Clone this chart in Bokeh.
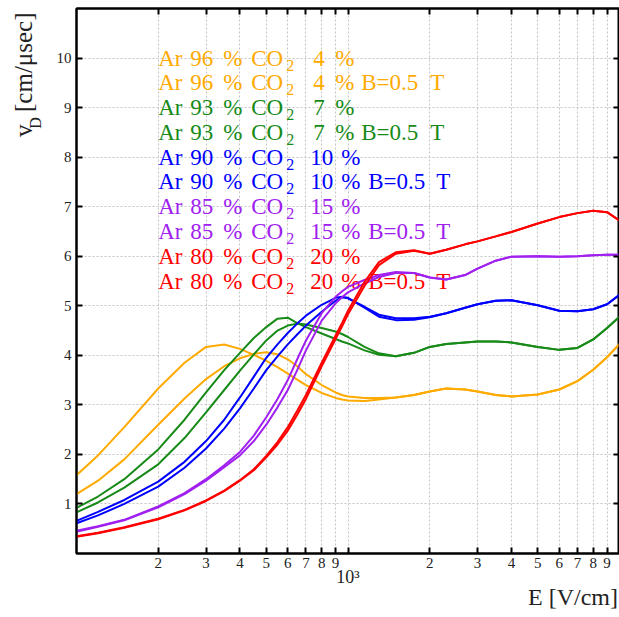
import numpy as np
from bokeh.plotting import figure
from bokeh.models import (FixedTicker, LogAxis, LinearAxis, Range1d, ColumnDataSource)
from bokeh.embed import file_html
from bokeh.resources import INLINE
from bokeh.core.properties import value

# ---------------- data ----------------
E_field = [100, 120, 150, 200, 250, 300, 350, 400, 450, 500, 550, 600, 650, 700,
           800, 900, 950, 1000, 1150, 1300, 1500, 1750, 2000, 2300, 2700, 3000,
           3500, 4000, 5000, 6000, 7000, 8000, 9000, 10000]

ar96_b0 = [1.58, 1.98, 2.55, 3.33, 3.85, 4.17, 4.22, 4.13, 4.01, 3.89, 3.76, 3.63, 3.51, 3.40,
           3.24, 3.14, 3.11, 3.09, 3.08, 3.11, 3.15, 3.20, 3.27, 3.33, 3.31, 3.27,
           3.20, 3.17, 3.21, 3.31, 3.48, 3.71, 3.96, 4.23]
ar96_b5 = [1.20, 1.47, 1.90, 2.60, 3.13, 3.52, 3.78, 3.94, 4.03, 4.06, 4.02, 3.92, 3.78, 3.62,
           3.40, 3.25, 3.20, 3.17, 3.14, 3.14, 3.15, 3.20, 3.27, 3.33, 3.31, 3.27,
           3.20, 3.17, 3.21, 3.31, 3.48, 3.71, 3.96, 4.23]
ar93_b0 = [0.92, 1.15, 1.50, 2.10, 2.70, 3.25, 3.70, 4.05, 4.35, 4.57, 4.74, 4.76, 4.65, 4.57,
           4.44, 4.33, 4.28, 4.24, 4.10, 4.01, 3.98, 4.05, 4.17, 4.23, 4.26, 4.28,
           4.28, 4.26, 4.17, 4.11, 4.15, 4.32, 4.55, 4.78]
ar93_b5 = [0.83, 1.03, 1.33, 1.80, 2.33, 2.85, 3.30, 3.69, 4.02, 4.30, 4.50, 4.60, 4.64, 4.62,
           4.55, 4.48, 4.43, 4.37, 4.17, 4.04, 3.98, 4.05, 4.17, 4.23, 4.26, 4.28,
           4.28, 4.26, 4.17, 4.11, 4.15, 4.32, 4.55, 4.78]
ar90_b0 = [0.66, 0.84, 1.08, 1.45, 1.85, 2.27, 2.70, 3.15, 3.57, 3.95, 4.22, 4.45, 4.64, 4.80,
           5.02, 5.16, 5.18, 5.15, 4.98, 4.82, 4.75, 4.75, 4.78, 4.85, 4.96, 5.03,
           5.10, 5.11, 5.01, 4.90, 4.89, 4.93, 5.03, 5.22]
ar90_b5 = [0.61, 0.77, 1.00, 1.35, 1.73, 2.12, 2.52, 2.93, 3.33, 3.70, 3.98, 4.22, 4.42, 4.60,
           4.88, 5.10, 5.17, 5.16, 4.96, 4.78, 4.71, 4.72, 4.77, 4.85, 4.96, 5.03,
           5.10, 5.11, 5.01, 4.90, 4.89, 4.93, 5.03, 5.22]
ar85_b0 = [0.46, 0.55, 0.68, 0.95, 1.22, 1.50, 1.78, 2.05, 2.38, 2.75, 3.12, 3.50, 3.92, 4.30,
           4.85, 5.18, 5.29, 5.38, 5.52, 5.62, 5.68, 5.66, 5.57, 5.53, 5.62, 5.75,
           5.91, 5.99, 6.00, 5.99, 6.00, 6.02, 6.03, 6.03]
ar85_b5 = [0.44, 0.54, 0.67, 0.93, 1.20, 1.47, 1.74, 1.98, 2.27, 2.60, 2.95, 3.30, 3.70, 4.10,
           4.70, 5.05, 5.17, 5.27, 5.45, 5.58, 5.66, 5.66, 5.57, 5.53, 5.62, 5.75,
           5.91, 5.99, 6.00, 5.99, 6.00, 6.02, 6.03, 6.03]
ar80_b0 = [0.35, 0.42, 0.53, 0.70, 0.88, 1.07, 1.27, 1.48, 1.70, 1.97, 2.25, 2.55, 2.88, 3.20,
           3.85, 4.40, 4.65, 4.90, 5.48, 5.88, 6.08, 6.12, 6.05, 6.13, 6.24, 6.30,
           6.40, 6.49, 6.66, 6.79, 6.87, 6.92, 6.89, 6.72]
ar80_b5 = [0.34, 0.41, 0.52, 0.69, 0.87, 1.06, 1.26, 1.47, 1.68, 1.94, 2.20, 2.48, 2.80, 3.12,
           3.78, 4.33, 4.58, 4.83, 5.40, 5.82, 6.05, 6.11, 6.05, 6.13, 6.24, 6.30,
           6.40, 6.49, 6.66, 6.79, 6.87, 6.92, 6.89, 6.72]

series = [ar96_b0, ar96_b5, ar93_b0, ar93_b5, ar90_b0, ar90_b5,
          ar85_b0, ar85_b5, ar80_b0, ar80_b5]

# legend texts
ar_pct = ["96", "96", "93", "93", "90", "90", "85", "85", "80", "80"]
co2_pct = ["4", "4", "7", "7", "10", "10", "15", "15", "20", "20"]
b_field = ["", "B=0.5", "", "B=0.5", "", "B=0.5", "", "B=0.5", "", "B=0.5"]

x_tick_values = [200, 300, 400, 500, 600, 700, 800, 900, 1000,
                 2000, 3000, 4000, 5000, 6000, 7000, 8000, 9000]
x_tick_labels = ["2", "3", "4", "5", "6", "7", "8", "9", "",
                 "2", "3", "4", "5", "6", "7", "8", "9"]
y_tick_values = [1, 2, 3, 4, 5, 6, 7, 8, 9, 10]
x_title = "E [V/cm]"
y_title_main = "v"
y_title_sub = "D"
y_title_unit = "[cm/\u03bcsec]"
decade_label = "10\u00b3"

# ---------------- styles ----------------
ORANGE = "#FFAA00"
GREEN = "#178A17"
BLUE = "#0000FF"
PURPLE = "#A020F0"
RED = "#FF0000"
colors = [ORANGE, ORANGE, GREEN, GREEN, BLUE, BLUE, PURPLE, PURPLE, RED, RED]
FONT = "Liberation Serif"
TXT = "#222222"
NB = "\u00a0"   # non-breaking spaces used to slide the centred axis titles

p = figure(width=619, height=617, x_axis_type="log",
           x_range=Range1d(100, 10000), y_range=Range1d(0, 11),
           output_backend="svg", toolbar_location=None,
           min_border_left=76, min_border_right=0, min_border_top=8,
           min_border_bottom=64)
p.background_fill_color = "white"
p.border_fill_color = "white"
p.outline_line_color = "black"
p.outline_line_width = 2

bottom_ax = p.below[0]
left_ax = p.left[0]

xt = FixedTicker(ticks=x_tick_values)
yt = FixedTicker(ticks=y_tick_values)

top_ax = LogAxis(ticker=xt)
right_ax = LinearAxis(ticker=yt)
p.add_layout(top_ax, "above")
p.add_layout(right_ax, "right")

for ax in [bottom_ax, left_ax, top_ax, right_ax]:
    ax.axis_line_width = 2
    ax.axis_line_color = "black"
    ax.major_tick_line_width = 2
    ax.major_tick_line_color = "black"
    ax.major_tick_in = 6
    ax.major_tick_out = 0
    ax.minor_tick_line_color = None
    ax.major_label_text_font = FONT
    ax.major_label_text_font_size = "15px"
    ax.major_label_text_color = TXT

bottom_ax.ticker = xt
left_ax.ticker = yt
bottom_ax.major_label_overrides = {v: s for v, s in zip(x_tick_values, x_tick_labels)}
bottom_ax.major_label_standoff = 4
left_ax.major_label_standoff = 5
for ax in [top_ax, right_ax]:
    ax.major_label_text_font_size = "1px"
    ax.major_label_text_color = None
    ax.major_label_standoff = 0

# subscript D of the y title, carried by the real left axis (centred label)
left_ax.axis_label = NB * 79 + y_title_sub
left_ax.axis_label_text_font = FONT
left_ax.axis_label_text_font_size = "16px"
left_ax.axis_label_text_font_style = "normal"
left_ax.axis_label_text_color = TXT
left_ax.axis_label_standoff = 10

# main y title on a bare extra axis
ytitle_ax = LinearAxis(ticker=FixedTicker(ticks=[]), axis_line_color=None,
                       major_tick_line_color=None, minor_tick_line_color=None,
                       major_tick_in=0, major_tick_out=0, minor_tick_in=0, minor_tick_out=0,
                       major_label_text_font_size="1px", major_label_text_color=None,
                       major_label_standoff=0,
                       axis_label=NB * 66 + y_title_main + NB * 2 + y_title_unit,
                       axis_label_text_font=FONT, axis_label_text_font_size="25px",
                       axis_label_text_font_style="normal", axis_label_text_color=TXT,
                       axis_label_standoff=-13)
p.add_layout(ytitle_ax, "left")

# 10^3 decade label and the x title on a bare extra bottom axis
xtitle_ax = LinearAxis(ticker=FixedTicker(ticks=[1000]), axis_line_color=None,
                       major_tick_line_color=None, minor_tick_line_color=None,
                       major_tick_in=0, major_tick_out=0, minor_tick_in=0, minor_tick_out=0,
                       major_label_overrides={1000: decade_label},
                       major_label_text_font=FONT, major_label_text_font_size="18px",
                       major_label_text_color=TXT, major_label_standoff=-4,
                       axis_label=NB * 75 + x_title, axis_label_text_font=FONT,
                       axis_label_text_font_size="24px", axis_label_text_font_style="normal",
                       axis_label_text_color=TXT, axis_label_standoff=-6)
p.add_layout(xtitle_ax, "below")

p.xgrid.ticker = xt
p.ygrid.ticker = yt
for g in [p.xgrid[0], p.ygrid[0]]:
    g.grid_line_color = "#c4c4c4"
    g.grid_line_dash = "2 2"
    g.grid_line_width = 1

# ---------------- legend as coloured text ----------------
main = dict(x=[], y=[], text=[], xo=[], color=[])
subs = dict(x=[], y=[], text=[], xo=[], color=[])
for i in range(len(ar_pct)):
    yy = 10.0 - 0.5 * i
    two = len(co2_pct[i]) == 2
    pieces = [("Ar", 0), (ar_pct[i], 32), ("%", 65), ("CO", 93),
              (co2_pct[i], 152 if two else 155), ("%", 183 if two else 177)]
    if b_field[i]:
        pieces += [(b_field[i], 210 if two else 203), ("T", 278 if two else 272)]
    for t, xo in pieces:
        main["x"].append(200); main["y"].append(yy); main["text"].append(t)
        main["xo"].append(xo); main["color"].append(colors[i])
    subs["x"].append(200); subs["y"].append(yy); subs["text"].append("2")
    subs["xo"].append(128); subs["color"].append(colors[i])

p.text(x="x", y="y", text="text", x_offset="xo", text_color="color",
       text_font=value(FONT), text_font_size=value("23px"),
       text_baseline="alphabetic", text_align="left",
       source=ColumnDataSource(main))
p.text(x="x", y="y", text="text", x_offset="xo", y_offset=7, text_color="color",
       text_font=value(FONT), text_font_size=value("16px"),
       text_baseline="alphabetic", text_align="left",
       source=ColumnDataSource(subs))

# ---------------- curves ----------------
for ys, c in zip(series, colors):
    p.line(E_field, ys, line_color=c, line_width=2)

open("out.html", "w").write(file_html(p, INLINE))
